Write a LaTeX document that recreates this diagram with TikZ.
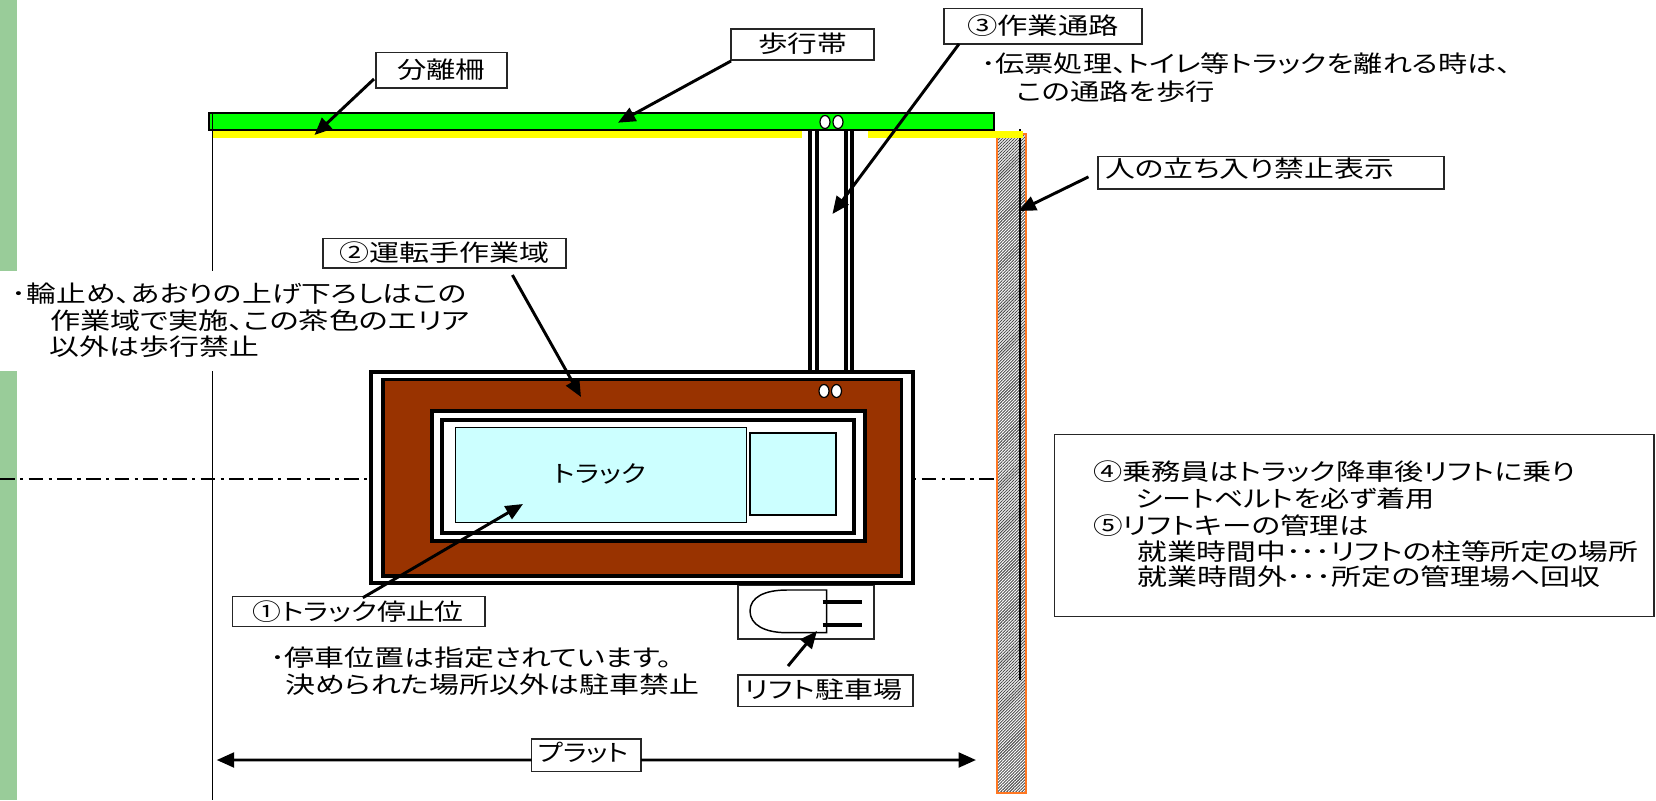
\documentclass[tikz,border=0pt]{standalone}
\usepackage{fontspec}
\usetikzlibrary{arrows.meta,patterns.meta}
\newfontfamily\jp[RawFeature=+palt]{Noto Sans CJK JP}
\definecolor{stripgreen}{HTML}{99CC99}
\definecolor{fenceyellow}{HTML}{FFFF00}
\definecolor{walkgreen}{HTML}{00FF00}
\definecolor{brownarea}{HTML}{993300}
\definecolor{truckcyan}{HTML}{CCFFFF}
\definecolor{wallorange}{HTML}{FF7722}
% #1 target width in px, #2 text
\newcommand{\Tw}[2]{\resizebox{\dimexpr #1pt*3/4\relax}{\height}{\jp\fontsize{17.5pt}{19pt}\selectfont #2}}
\tikzset{
  x=0.75pt,y=-0.75pt,
  thinline/.style={line width=1.1pt,draw=black},
  thickbox/.style={line width=2.5pt,draw=black},
  txt/.style={inner sep=0pt,outer sep=0pt,anchor=west,text=black},
  lblbox/.style={draw=black!85,line width=1.1pt,fill=white,inner sep=0pt,outer sep=0pt},
  callout/.style={line width=2.2pt,draw=black,-{Triangle[length=13pt,width=11pt]},shorten >=0pt},
  holes/.style={draw=black,line width=.9pt,fill=white},
}
% #1 name, #2-#5 box x1 y1 x2 y2
\newcommand{\Bx}[5]{\node[lblbox,minimum width={(#4-#2)*0.75pt},minimum height={(#5-#3)*0.75pt}] (#1) at ({(#2+#4)/2},{(#3+#5)/2}) {};}
\begin{document}
\begin{tikzpicture}
\useasboundingbox (0,0) rectangle (1656,800);
% left strip
\fill[stripgreen] (0,0) rectangle (17,800);
% yellow fence
\fill[fenceyellow] (212,130) rectangle (802,138);
% hatched wall
\path[pattern={Lines[distance=1.6pt,angle=45,line width=.7pt]},pattern color=black!70] (997,134) rectangle (1026,793);
\draw[wallorange,line width=1.3pt] (997,134) rectangle (1026,793);
\draw[line width=1.7pt,black] (1020,129) -- (1020,680);
\fill[fenceyellow] (868,131) rectangle (1023,138);
% walkway band
\draw[thinline,fill=walkgreen] (209,113) rectangle (994,130);
% plat edge
\draw[thinline] (212.3,113) -- (212.3,800);
\fill[white] (0,271) rectangle (475,371);
% work passage
\foreach \lx in {810,816.5,845.5,852}{\draw[line width=3pt,black] (\lx,130) -- (\lx,372);}
\draw[holes] (825,122) ellipse (5 and 6.5);
\draw[holes] (838,122) ellipse (5 and 6.5);
% centre line
\draw[line width=1.3pt,dash pattern=on 11pt off 4pt on 2.5pt off 4pt] (0,479) -- (371,479);
\draw[line width=1.3pt,dash pattern=on 2.5pt off 4pt on 11pt off 4pt] (913,479) -- (996,479);
% driver work area
\draw[thickbox,fill=white] (371,372) rectangle (913,583);
\draw[thickbox] (500,371.5) -- (913,371.5);
\draw[thickbox,fill=brownarea] (383,379.5) rectangle (901.5,576);
\draw[thickbox,fill=white] (432,411) rectangle (865,541);
\draw[thickbox,fill=white] (442,420) rectangle (854,533);
\draw[holes] (824,391) ellipse (5 and 6.5);
\draw[holes] (836.5,391) ellipse (5 and 6.5);
% truck
\draw[thinline,fill=truckcyan] (455.5,427.5) rectangle (746.5,522.5);
\draw[thinline,fill=truckcyan] (750,433) rectangle (836,515);
\node[txt,anchor=center] (ttruck) at (600,474) {\Tw{92}{トラック}};
% forklift
\draw[line width=1.1pt,black!85,fill=white] (738,585.7) rectangle (874,639);
\draw[line width=1.1pt,black] (826.7,590) -- (787,590) .. controls (765,590) and (750,597) .. (750,611) .. controls (750,625) and (765,632.7) .. (787,632.7) -- (826.7,632.7) -- cycle;
\draw[line width=3pt,black] (822.7,601.7) -- (862,601.7);
\draw[line width=3pt,black] (822.7,625) -- (862,625);
% label boxes
\Bx{bsep}{376}{52.7}{507}{88}
\node[txt] (tsep) at (397,70) {\Tw{88}{分離柵}};
\Bx{bwalk}{731}{29}{874}{60}
\node[txt] (twalk) at (758,44) {\Tw{89}{歩行帯}};
\Bx{bpass}{944}{8.7}{1142}{44}
\node[txt] (tpass) at (967,26) {\Tw{152}{③作業通路}};
\Bx{bdrv}{323}{238.7}{566}{268}
\node[txt] (tdrv) at (339,253) {\Tw{210}{②運転手作業域}};
\Bx{bban}{1098}{156.7}{1444}{189}
\node[txt] (tban) at (1105,169) {\Tw{289}{人の立ち入り禁止表示}};
\Bx{bstop}{232.7}{596.7}{485}{626.7}
\node[txt] (tstop) at (252.7,611.7) {\Tw{211}{①トラック停止位}};
\Bx{blift}{738}{675}{913}{706.7}
\node[txt] (tlift) at (745,690) {\Tw{157}{リフト駐車場}};
\Bx{bplat}{531.7}{739}{641}{771.7}
\node[txt] (tplat) at (538,752.7) {\Tw{91}{プラット}};
\Bx{bnote}{1054.5}{434.7}{1654}{616.7}
% notes
\node[txt] (n1a) at (12,294) {\Tw{455}{･輪止め、あおりの上げ下ろしはこの}};
\node[txt] (n1b) at (50,321) {\Tw{420}{作業域で実施、この茶色のエリア}};
\node[txt] (n1c) at (50,347) {\Tw{209}{以外は歩行禁止}};
\node[txt] (n2a) at (981,64) {\Tw{530}{･伝票処理、トイレ等トラックを離れる時は、}};
\node[txt] (n2b) at (1017,91.7) {\Tw{198}{この通路を歩行}};
\node[txt] (n3a) at (270,658) {\Tw{402}{･停車位置は指定されています。}};
\node[txt] (n3b) at (285,685) {\Tw{414}{決められた場所以外は駐車禁止}};
\node[txt] (n4a) at (1093,472) {\Tw{483}{④乗務員はトラック降車後リフトに乗り}};
\node[txt] (n4b) at (1136,499) {\Tw{299}{シートベルトを必ず着用}};
\node[txt] (n4c) at (1093,526) {\Tw{276}{⑤リフトキーの管理は}};
\node[txt] (n4d) at (1137.4,552) {\Tw{501}{就業時間中･･･リフトの柱等所定の場所}};
\node[txt] (n4e) at (1137.4,577) {\Tw{463}{就業時間外･･･所定の管理場へ回収}};
% arrow targets
\coordinate (psep) at (314.5,135);
\coordinate (pwalk) at (618,122.7);
\coordinate (ppass) at (832.4,214);
\coordinate (pban) at (1018.6,211);
\coordinate (pdrv) at (581,397);
\coordinate (pstop) at (523,504);
\coordinate (plift) at (817,631);
\coordinate (platl) at (216.7,760);
\coordinate (platr) at (976,760);
% connectors
\draw[callout] ([shift={(-2,-9)}]bsep.south west) -- (psep);
\draw[callout] ([shift={(0,1)}]bwalk.south west) -- (pwalk);
\draw[callout] ([shift={(15,0)}]bpass.south west) -- (ppass);
\draw[callout] ([shift={(-9.5,4)}]bban.west) -- (pban);
\draw[callout] ([shift={(-53.6,7)}]bdrv.south east) -- (pdrv);
\draw[callout] ([shift={(4,1)}]bstop.north) -- (pstop);
\draw[callout] ([shift={(50,-9)}]blift.north west) -- (plift);
\draw[callout] ([shift={(0,4.65)}]bplat.west) -- (platl);
\draw[callout] ([shift={(0,4.65)}]bplat.east) -- (platr);
\end{tikzpicture}
\end{document}
